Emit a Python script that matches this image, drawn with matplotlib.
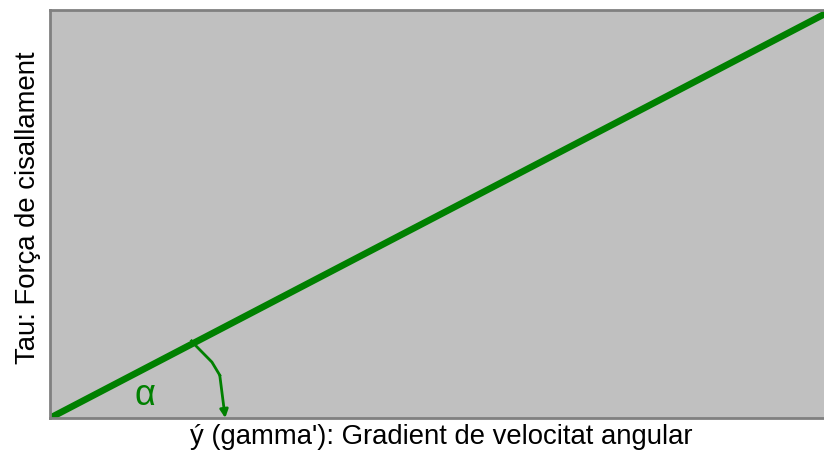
import matplotlib
matplotlib.use("Agg")
import matplotlib.pyplot as plt

plt.rcParams['font.family'] = ['Liberation Sans', 'DejaVu Sans']

# Shear stress vs. shear rate (Newtonian fluid: straight line through origin)
shear_rate = [0, 10]
shear_stress = [0, 10]

# Angle marker path from the line down to the x-axis
arc_x = [1.81, 1.87, 2.07, 2.17, 2.24]
arc_y = [1.89, 1.76, 1.37, 1.05, 0.0]

xlabel = "ý (gamma'): Gradient de velocitat angular"
ylabel = "Tau: Força de cisallament"
angle_label = "α"

green = "#008000"

fig = plt.figure(figsize=(8.24, 4.57), dpi=100)
ax = fig.add_axes([50 / 824, 1 - 418 / 457, 1 - 50 / 824 + 0.01, 408 / 457])
ax.set_facecolor("#c0c0c0")

ax.plot(shear_rate, shear_stress, color=green, lw=4.8, solid_capstyle="butt")
ax.plot(arc_x[:-1], arc_y[:-1], color=green, lw=2.0)
ax.annotate("", xy=(arc_x[-1], arc_y[-1]), xytext=(arc_x[-2], arc_y[-2]),
            arrowprops=dict(arrowstyle="-|>", color=green, lw=2.0,
                            mutation_scale=12, shrinkA=0, shrinkB=0))
ax.text(1.21, 0.56, angle_label, color=green, fontsize=26,
        ha="center", va="center")

ax.set_xlim(0, 10)
ax.set_ylim(0, 10)
ax.set_xticks([])
ax.set_yticks([])
for side in ("left", "bottom", "top"):
    ax.spines[side].set_color("#808080")
    ax.spines[side].set_linewidth(2)
ax.spines["right"].set_visible(False)

ax.set_xlabel(xlabel, fontsize=19.8, labelpad=4)
ax.set_ylabel(ylabel, fontsize=19.8)
ax.yaxis.set_label_coords(-0.012, 0.515)

fig.savefig("out.png", dpi=100)
